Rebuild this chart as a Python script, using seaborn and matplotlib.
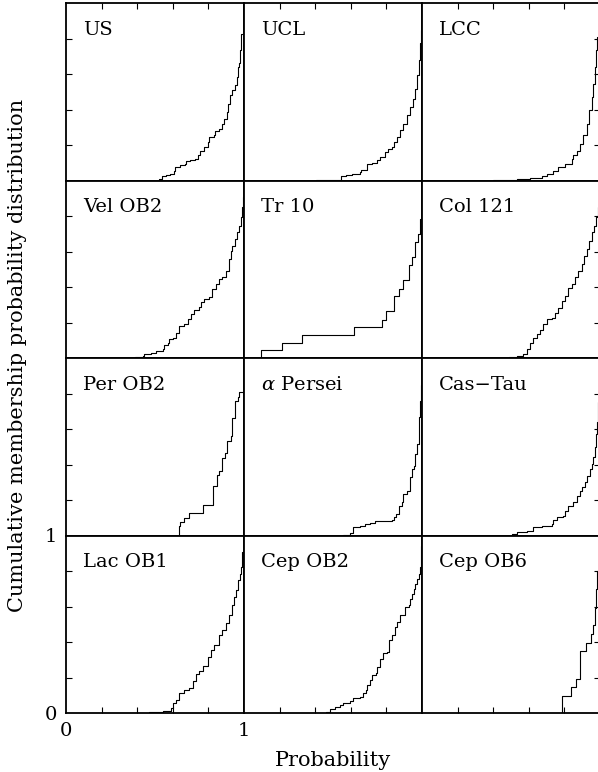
import numpy as np
import matplotlib
matplotlib.use("Agg")
import matplotlib.pyplot as plt
import seaborn as sns

# ---------------- data ----------------
names = ["US", "UCL", "LCC",
         "Vel OB2", "Tr 10", "Col 121",
         "Per OB2", r"$\alpha$ Persei", "Cas\u2212Tau",
         "Lac OB1", "Cep OB2", "Cep OB6"]

# probability values at which the cumulative distribution steps, and cumulative level after each step
US_p = [0.521, 0.540, 0.559, 0.587, 0.605, 0.615, 0.642, 0.667, 0.674, 0.698, 0.726, 0.741, 0.754, 0.773, 0.797, 0.804,
        0.829, 0.838, 0.857, 0.875, 0.890, 0.903, 0.912, 0.922, 0.935, 0.950, 0.959, 0.968, 0.974, 0.980, 0.983, 1.0]
US_c = [0.006, 0.023, 0.032, 0.038, 0.053, 0.075, 0.085, 0.094, 0.109, 0.113, 0.119, 0.141, 0.169, 0.188, 0.217, 0.245,
        0.254, 0.279, 0.292, 0.316, 0.348, 0.386, 0.433, 0.480, 0.512, 0.537, 0.584, 0.640, 0.663, 0.734, 0.828, 1.0]

UCL_p = [0.406, 0.538, 0.547, 0.575, 0.604, 0.651, 0.660, 0.689, 0.717, 0.745, 0.764, 0.792, 0.811, 0.830, 0.840,
         0.858, 0.877, 0.896, 0.915, 0.934, 0.949, 0.962, 0.972, 0.981, 0.989, 0.994, 1.0]
UCL_c = [0.002, 0.004, 0.024, 0.032, 0.038, 0.047, 0.060, 0.094, 0.098, 0.117, 0.132, 0.160, 0.179, 0.188, 0.217,
         0.245, 0.282, 0.320, 0.367, 0.414, 0.461, 0.518, 0.593, 0.678, 0.772, 0.847, 1.0]

LCC_p = [0.401, 0.532, 0.607, 0.672, 0.700, 0.738, 0.766, 0.803, 0.841, 0.850, 0.869, 0.888, 0.906, 0.925, 0.940,
         0.953, 0.963, 0.972, 0.978, 0.985, 0.992, 1.0]
LCC_c = [0.002, 0.006, 0.013, 0.024, 0.038, 0.053, 0.075, 0.094, 0.122, 0.141, 0.169, 0.207, 0.254, 0.320, 0.395,
         0.471, 0.546, 0.640, 0.734, 0.810, 0.880, 1.0]

VelOB2_p = [0.385, 0.432, 0.441, 0.479, 0.507, 0.544, 0.553, 0.572, 0.581, 0.600, 0.618, 0.637, 0.665, 0.683, 0.702,
            0.721, 0.749, 0.758, 0.777, 0.804, 0.823, 0.842, 0.860, 0.879, 0.898, 0.916, 0.926, 0.935, 0.950, 0.963,
            0.972, 0.981, 0.988, 0.994, 1.0]
VelOB2_c = [0.003, 0.011, 0.025, 0.030, 0.040, 0.049, 0.073, 0.087, 0.105, 0.115, 0.139, 0.181, 0.190, 0.218, 0.247,
            0.269, 0.288, 0.318, 0.331, 0.341, 0.388, 0.416, 0.444, 0.458, 0.492, 0.557, 0.605, 0.633, 0.670, 0.708,
            0.746, 0.793, 0.849, 0.906, 1.0]

Tr10_p = [0.098, 0.213, 0.328, 0.616, 0.774, 0.800, 0.842, 0.872, 0.893, 0.927, 0.942, 0.959, 0.979, 0.990, 1.0]
Tr10_c = [0.043, 0.086, 0.131, 0.174, 0.216, 0.263, 0.347, 0.390, 0.437, 0.522, 0.568, 0.653, 0.700, 0.784, 1.0]

Col121_p = [0.491, 0.532, 0.569, 0.588, 0.607, 0.625, 0.644, 0.663, 0.682, 0.700, 0.728, 0.747, 0.766, 0.785, 0.803,
            0.822, 0.841, 0.860, 0.878, 0.897, 0.910, 0.925, 0.940, 0.953, 0.966, 0.978, 0.989, 0.995, 1.0]
Col121_c = [0.003, 0.011, 0.025, 0.049, 0.087, 0.115, 0.134, 0.156, 0.190, 0.218, 0.228, 0.256, 0.284, 0.322, 0.350,
            0.397, 0.416, 0.454, 0.492, 0.529, 0.576, 0.614, 0.661, 0.708, 0.746, 0.793, 0.850, 0.920, 1.0]

PerOB2_p = [0.633, 0.642, 0.661, 0.693, 0.771, 0.827, 0.847, 0.860, 0.875, 0.894, 0.903, 0.926, 0.931, 0.950, 0.965,
            0.974, 1.0]
PerOB2_c = [0.053, 0.075, 0.096, 0.124, 0.173, 0.278, 0.340, 0.362, 0.437, 0.465, 0.535, 0.559, 0.660, 0.756, 0.779,
            0.807, 1.0]

aPer_p = [0.557, 0.594, 0.613, 0.651, 0.679, 0.708, 0.736, 0.783, 0.830, 0.840, 0.855, 0.868, 0.887, 0.896, 0.915,
          0.934, 0.943, 0.953, 0.962, 0.972, 0.981, 0.985, 0.989, 0.993, 1.0]
aPer_c = [0.003, 0.013, 0.047, 0.052, 0.062, 0.069, 0.080, 0.084, 0.088, 0.103, 0.122, 0.169, 0.187, 0.234, 0.253,
          0.328, 0.375, 0.393, 0.459, 0.515, 0.590, 0.665, 0.757, 0.850, 1.0]

CasTau_p = [0.504, 0.532, 0.588, 0.625, 0.672, 0.728, 0.738, 0.757, 0.794, 0.803, 0.822, 0.850, 0.869, 0.888, 0.897,
            0.916, 0.925, 0.944, 0.953, 0.963, 0.972, 0.979, 0.985, 0.991, 0.996, 1.0]
CasTau_c = [0.006, 0.019, 0.028, 0.047, 0.056, 0.062, 0.090, 0.103, 0.112, 0.140, 0.169, 0.187, 0.225, 0.253, 0.272,
            0.300, 0.337, 0.375, 0.403, 0.440, 0.496, 0.571, 0.640, 0.750, 0.850, 1.0]

LacOB1_p = [0.469, 0.544, 0.590, 0.600, 0.618, 0.637, 0.665, 0.693, 0.711, 0.730, 0.749, 0.767, 0.795, 0.814, 0.832,
            0.860, 0.879, 0.898, 0.916, 0.935, 0.944, 0.957, 0.968, 0.976, 0.981, 0.986, 0.990, 1.0]
LacOB1_c = [0.007, 0.013, 0.026, 0.058, 0.073, 0.112, 0.127, 0.140, 0.178, 0.221, 0.234, 0.262, 0.318, 0.356, 0.384,
            0.440, 0.468, 0.506, 0.552, 0.609, 0.655, 0.693, 0.747, 0.785, 0.822, 0.878, 0.906, 1.0]

CepOB2_p = [0.458, 0.481, 0.509, 0.538, 0.557, 0.594, 0.613, 0.651, 0.670, 0.685, 0.689, 0.708, 0.717, 0.742, 0.749,
            0.764, 0.779, 0.802, 0.817, 0.830, 0.849, 0.862, 0.877, 0.906, 0.925, 0.934, 0.943, 0.953, 0.962, 0.972,
            0.981, 0.988, 0.993, 1.0]
CepOB2_c = [0.007, 0.021, 0.036, 0.045, 0.058, 0.067, 0.082, 0.088, 0.110, 0.129, 0.157, 0.185, 0.213, 0.223, 0.260,
            0.307, 0.339, 0.344, 0.410, 0.438, 0.485, 0.513, 0.551, 0.597, 0.607, 0.644, 0.672, 0.700, 0.728, 0.757,
            0.785, 0.822, 0.940, 1.0]

CepOB6_p = [0.787, 0.839, 0.865, 0.890, 0.921, 0.951, 0.959, 0.970, 0.978, 0.985, 1.0]
CepOB6_c = [0.098, 0.145, 0.192, 0.349, 0.396, 0.445, 0.494, 0.594, 0.700, 0.800, 1.0]

series_p = [US_p, UCL_p, LCC_p, VelOB2_p, Tr10_p, Col121_p, PerOB2_p, aPer_p, CasTau_p, LacOB1_p, CepOB2_p, CepOB6_p]
series_c = [US_c, UCL_c, LCC_c, VelOB2_c, Tr10_c, Col121_c, PerOB2_c, aPer_c, CasTau_c, LacOB1_c, CepOB2_c, CepOB6_c]

xlabel = "Probability"
ylabel = "Cumulative membership probability distribution"
tick_labels = ["0", "1"]

# ---------------- style ----------------
sns.set_theme(style="ticks")
plt.rcParams["font.family"] = ["DejaVu Serif", "DejaVu Sans"]
plt.rcParams["mathtext.fontset"] = "dejavuserif"
plt.rcParams["axes.edgecolor"] = "black"

W, H = 598, 772
fig, axes = plt.subplots(4, 3, figsize=(W / 100, H / 100), dpi=100, sharex=True, sharey=True)
fig.subplots_adjust(left=66 / W, right=600 / W, top=1 - 3 / H, bottom=1 - 713 / H, wspace=0, hspace=0)

fs_axis = 15
fs_panel = 14
fs_tick = 14
for i, ax in enumerate(axes.flat):
    r, c = divmod(i, 3)
    p = np.asarray(series_p[i], dtype=float)
    w = np.diff(np.asarray(series_c[i], dtype=float), prepend=0.0)
    sns.ecdfplot(x=p, weights=w, ax=ax, color="black", linewidth=0.8)
    ax.set_xlabel("")
    ax.set_ylabel("")
    ax.set_xlim(0, 1)
    ax.set_ylim(0, 1)
    ax.set_xticks([0, 1])
    ax.set_yticks([0, 1])
    ax.set_xticks([0.2, 0.4, 0.6, 0.8], minor=True)
    ax.set_yticks([0.2, 0.4, 0.6, 0.8], minor=True)
    ax.tick_params(which="both", direction="in", top=(r == 0), bottom=(r == 3),
                   left=(c == 0), right=(c == 2), labelbottom=False, labelleft=False,
                   labeltop=False, labelright=False, colors="black")
    ax.tick_params(which="major", length=0, pad=6.5, labelsize=fs_tick)
    ax.tick_params(which="minor", length=4, width=0.8)
    for s in ax.spines.values():
        s.set_linewidth(1.3)
        s.set_color("black")
    ax.text(0.095, 0.85, names[i], transform=ax.transAxes, fontsize=fs_panel,
            ha="left", va="center", color="black")

bl = axes[3, 0]
bl.tick_params(which="major", labelbottom=True, labelleft=True)
bl.set_xticklabels(tick_labels)
bl.set_yticklabels(tick_labels)

fig.text(333 / W, 1 - 760 / H, xlabel, ha="center", va="center", fontsize=fs_axis, color="black")
fig.text(18 / W, 1 - 355 / H, ylabel, ha="center", va="center", rotation=90, fontsize=fs_axis, color="black")

fig.savefig("out.png", dpi=100)
